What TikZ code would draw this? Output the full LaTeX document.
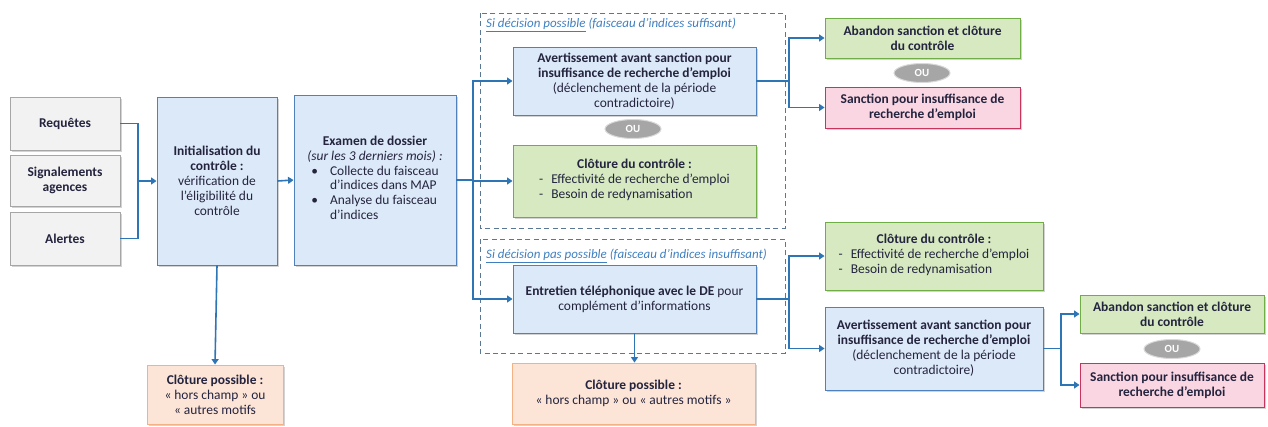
\documentclass[tikz,border=0pt]{standalone}
\usepackage{fontspec}
\setmainfont{Carlito}
\usetikzlibrary{arrows.meta,shapes.geometric,shadows}

\definecolor{txt}{HTML}{24243F}
\definecolor{grayfill}{HTML}{F2F2F2}
\definecolor{grayline}{HTML}{A6A6A6}
\definecolor{bluefill}{HTML}{DCE9F8}
\definecolor{blueline}{HTML}{4F81BD}
\definecolor{greenfill}{HTML}{D6E9C0}
\definecolor{greenline}{HTML}{70AD47}
\definecolor{pinkfill}{HTML}{FAD6E2}
\definecolor{pinkline}{HTML}{C9345E}
\definecolor{orangefill}{HTML}{FCE4D6}
\definecolor{orangeline}{HTML}{F4B183}
\definecolor{arrowblue}{HTML}{2E75B6}
\definecolor{dashline}{HTML}{5A7794}
\definecolor{labelblue}{HTML}{3F7FBF}

\tikzset{
  box/.style={draw, line width=0.9pt, align=center, inner sep=2pt, text=txt,
    font=\fontsize{13.5}{15}\selectfont,
    drop shadow={shadow xshift=1.6pt, shadow yshift=-1.6pt, opacity=0.35}},
  sz/.style 2 args={minimum width=#1bp, minimum height=#2bp},
  graybox/.style={box, fill=grayfill, draw=grayline},
  bluebox/.style={box, fill=bluefill, draw=blueline},
  greenbox/.style={box, fill=greenfill, draw=greenline},
  pinkbox/.style={box, fill=pinkfill, draw=pinkline},
  orangebox/.style={box, fill=orangefill, draw=orangeline},
  ou/.style={ellipse, fill=gray!70, draw=gray!30, line width=1pt, text=white,
    inner sep=0pt, minimum width=56bp, minimum height=19bp,
    font=\bfseries\fontsize{11}{12}\selectfont},
  conn/.style={draw=arrowblue, line width=1.6pt},
  arr/.style={conn, -{Triangle[width=7pt,length=5.5pt]}},
  zone/.style={draw=dashline, line width=0.9pt, dash pattern=on 5pt off 3.5pt},
  lbl/.style={anchor=west, inner sep=0pt, text=labelblue,
    font=\itshape\fontsize{13}{14}\selectfont}
}

\begin{document}
\begin{tikzpicture}[x=1bp, y=-1bp]
    \useasboundingbox (0,0) rectangle (1268,426);

    % dashed zones
    \draw[zone] (480,13) rectangle (785,228);
    \draw[zone] (480,239) rectangle (785,353);
    \node[lbl] (lab1) at (486,25) {\underline{Si décision possible} (faisceau d’indices suffisant)};
    \node[lbl] (lab2) at (486,256) {\underline{Si décision pas possible} (faisceau d’indices insuffisant)};

    % sources
    \node[graybox, sz={110}{53}] (req) at (65,123.5) {\textbf{Requêtes}};
    \node[graybox, sz={110}{51}] (sig) at (65,180.5) {\textbf{Signalements}\\\textbf{agences}};
    \node[graybox, sz={110}{53}] (ale) at (65,238.5) {\textbf{Alertes}};

    \node[bluebox, sz={120}{168}] (init) at (217,181)
        {\textbf{Initialisation du}\\\textbf{contrôle :}\\vérification de\\l’éligibilité du\\contrôle};
    \node[bluebox, sz={162}{170}] (exa) at (375,180)
        {\textbf{Examen de dossier}\\\textit{(sur les 3 derniers mois) :}\\
         \begin{tabular}[t]{@{}l@{\hspace{12pt}}l@{}}
         \textbullet & Collecte du faisceau\\
                     & d’indices dans MAP\\
         \textbullet & Analyse du faisceau\\
                     & d’indices
         \end{tabular}};
    \node[orangebox, sz={136}{59}] (cp1) at (215,394.5)
        {\textbf{Clôture possible :}\\« hors champ » ou\\« autres motifs};

    % decision possible
    \node[bluebox, sz={243}{68}] (av1) at (634.5,81)
        {\textbf{Avertissement avant sanction pour}\\\textbf{insuffisance de recherche d’emploi}\\(déclenchement de la période\\contradictoire)};
    \node[ou] (ou1) at (633,129) {OU};
    \node[greenbox, sz={243}{72}] (clo1) at (634.5,181)
        {\textbf{Clôture du contrôle :}\\
         \begin{tabular}[t]{@{}l@{\hspace{8pt}}l@{}}
         - & Effectivité de recherche d’emploi\\
         - & Besoin de redynamisation
         \end{tabular}};

    % decision pas possible
    \node[bluebox, sz={243}{68}] (ent) at (634.5,299)
        {\textbf{Entretien téléphonique avec le DE} pour\\complément d’informations};
    \node[orangebox, sz={243}{61}] (cp2) at (633.5,393.5)
        {\textbf{Clôture possible :}\\« hors champ » ou « autres motifs »};

    % right upper
    \node[greenbox, sz={195}{40}] (aba1) at (922.5,38)
        {\textbf{Abandon sanction et clôture}\\\textbf{du contrôle}};
    \node[ou] (ou2) at (922,73) {OU};
    \node[pinkbox, sz={195}{41}] (san1) at (922.5,107.5)
        {\textbf{Sanction pour insuffisance de}\\\textbf{recherche d’emploi}};

    % right lower
    \node[greenbox, sz={218}{68}] (clo2) at (934,256)
        {\textbf{Clôture du contrôle :}\\
         \begin{tabular}[t]{@{}l@{\hspace{8pt}}l@{}}
         - & Effectivité de recherche d’emploi\\
         - & Besoin de redynamisation
         \end{tabular}};
    \node[bluebox, sz={218}{83}] (av2) at (934,348.5)
        {\textbf{Avertissement avant sanction pour}\\\textbf{insuffisance de recherche d’emploi}\\(déclenchement de la période\\contradictoire)};
    \node[greenbox, sz={184}{38}] (aba2) at (1172,314)
        {\textbf{Abandon sanction et clôture}\\\textbf{du contrôle}};
    \node[ou] (ou3) at (1172,349) {OU};
    \node[pinkbox, sz={184}{44}] (san2) at (1172,385)
        {\textbf{Sanction pour insuffisance de}\\\textbf{recherche d’emploi}};

    % junctions
    \coordinate (j1) at (138,181);
    \coordinate (j2) at (473,180);
    \coordinate (j3) at (789,81);
    \coordinate (j4) at (789,299);
    \coordinate (j5) at (1061,348.5);

    % connectors
    \draw[conn] (req.east) -| (j1);
    \draw[conn] (ale.east) -| (j1);
    \draw[arr] (j1) -- (init.west);
    \draw[arr] (init.east) -- (exa.west);
    \draw[arr] (init.south) -- (cp1.north);

    \draw[conn] (exa.east) -- (j2);
    \draw[arr] (j2) |- (av1.west);
    \draw[arr] (j2) |- (clo1.west);
    \draw[arr] (j2) |- (ent.west);
    \draw[arr] (ent.south) -- (ent.south |- cp2.north);

    \draw[conn] (av1.east) -- (j3);
    \draw[arr] (j3) |- (aba1.west);
    \draw[arr] (j3) |- (san1.west);

    \draw[conn] (ent.east) -- (j4);
    \draw[arr] (j4) |- (clo2.west);
    \draw[arr] (j4) |- (av2.west);

    \draw[conn] (av2.east) -- (j5);
    \draw[arr] (j5) |- (aba2.west);
    \draw[arr] (j5) |- (san2.west);
\end{tikzpicture}
\end{document}
